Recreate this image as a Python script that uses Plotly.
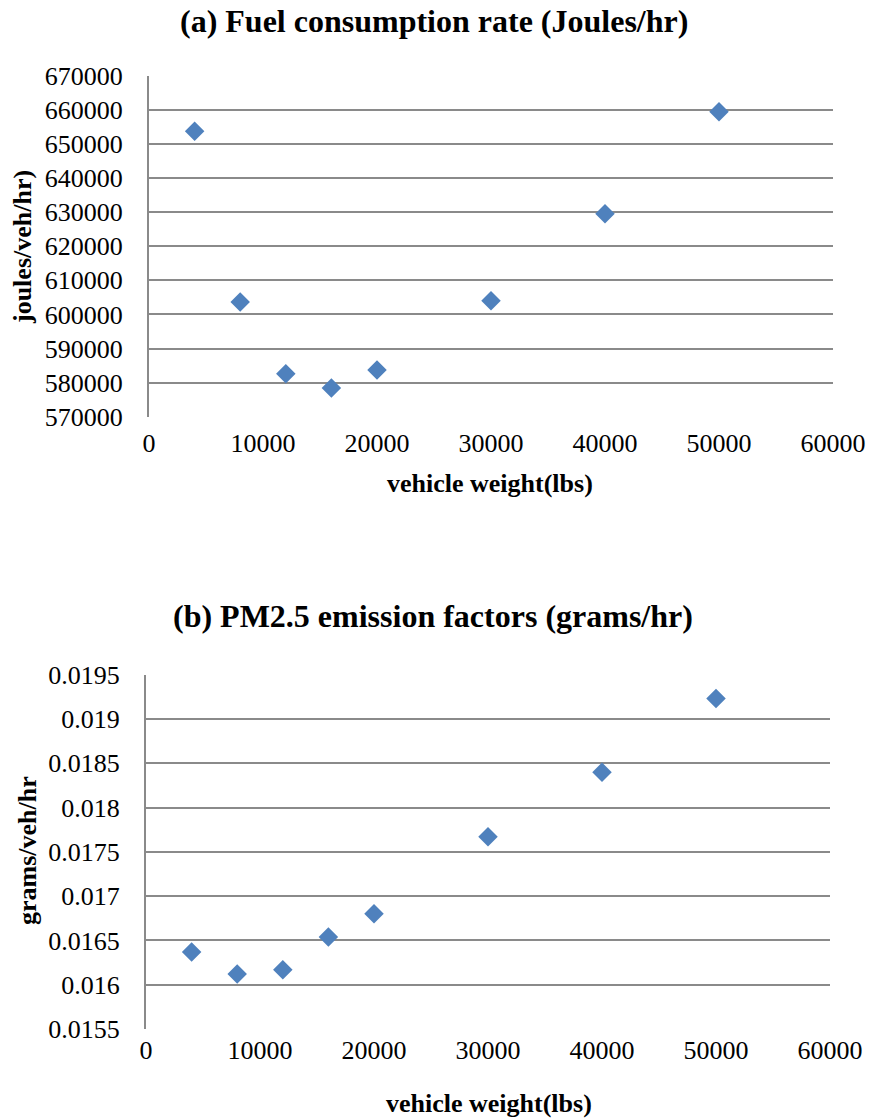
import plotly.graph_objects as go

weights = [4000, 8000, 12000, 16000, 20000, 30000, 40000, 50000]
fuel_joules = [653700, 603600, 582600, 578400, 583700, 604000, 629500, 659400]
pm25_grams = [0.01637, 0.01612, 0.01617, 0.01654, 0.01680, 0.01767, 0.01840, 0.01923]

x_ticks = [0, 10000, 20000, 30000, 40000, 50000, 60000]
x_ticktext = ["0", "10000", "20000", "30000", "40000", "50000", "60000"]
fuel_ticks = [570000, 580000, 590000, 600000, 610000, 620000, 630000, 640000, 650000, 660000, 670000]
fuel_ticktext = [str(v) for v in fuel_ticks]
pm_ticks = [0.0155, 0.016, 0.0165, 0.017, 0.0175, 0.018, 0.0185, 0.019, 0.0195]
pm_ticktext = ["0.0155", "0.016", "0.0165", "0.017", "0.0175", "0.018", "0.0185", "0.019", "0.0195"]

W, H = 869, 1118
FONT = "Liberation Serif, Times New Roman, serif"
MARK = "#4F81BD"
GRID = "#8A8A8A"

fig = go.Figure()
fig.add_trace(go.Scatter(x=weights, y=fuel_joules, mode="markers", xaxis="x", yaxis="y",
                         marker=dict(symbol="diamond", size=15, color=MARK), showlegend=False))
fig.add_trace(go.Scatter(x=weights, y=pm25_grams, mode="markers", xaxis="x2", yaxis="y2",
                         marker=dict(symbol="diamond", size=15, color=MARK), showlegend=False))

tickfont = dict(family=FONT, size=26, color="black")
axtitlefont = dict(family=FONT, size=26, color="black")
titlefont = dict(family=FONT, size=32, color="black")

def xax(domain, anchor, standoff):
    return dict(domain=domain, anchor=anchor, range=[0, 60000], tickvals=x_ticks, ticktext=x_ticktext,
                showgrid=False, zeroline=False, showline=False, ticks="", tickfont=tickfont,
                automargin=False, ticklabelstandoff=standoff)

def yax(domain, anchor, rng, vals, text):
    return dict(domain=domain, anchor=anchor, range=rng, tickvals=vals, ticktext=text,
                showgrid=True, gridcolor=GRID, gridwidth=2, zeroline=False,
                showline=True, linecolor=GRID, linewidth=2, ticks="", tickfont=tickfont,
                ticklabelstandoff=19, automargin=False)

def ann(text, x, y, font, angle=0):
    return dict(text=text, x=x / W, y=1 - y / H, xref="paper", yref="paper", showarrow=False,
                xanchor="center", yanchor="middle", textangle=angle, font=font)

fig.update_layout(
    template="none",
    font=dict(family=FONT, color="black"),
    width=W, height=H, margin=dict(l=0, r=0, t=0, b=0),
    paper_bgcolor="white", plot_bgcolor="white",
    xaxis=xax([149 / W, 833 / W], "y", 8),
    yaxis=yax([1 - 416.7 / H, 1 - 75.7 / H], "x", [570000, 670000], fuel_ticks, fuel_ticktext),
    xaxis2=xax([146 / W, 830 / W], "y2", 3),
    yaxis2=yax([1 - 1029 / H, 1 - 674.7 / H], "x2", [0.0155, 0.0195], pm_ticks, pm_ticktext),
    annotations=[
        ann("<b>(a) Fuel consumption rate (Joules/hr)</b>", 433.5, 21, titlefont),
        ann("<b>(b) PM2.5 emission factors (grams/hr)</b>", 432.5, 616, titlefont),
        ann("<b>vehicle weight(lbs)</b>", 490, 484, axtitlefont),
        ann("<b>vehicle weight(lbs)</b>", 489, 1103, axtitlefont),
        ann("<b>joules/veh/hr)</b>", 23, 247, axtitlefont, -90),
        ann("<b>grams/veh/hr</b>", 27, 851, axtitlefont, -90),
    ],
)

fig.write_html("out.html")
